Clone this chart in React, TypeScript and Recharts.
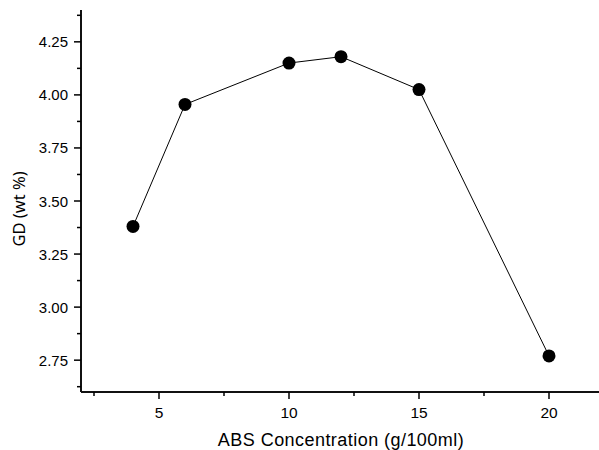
import React from 'react';
import { LineChart, Line, XAxis, YAxis } from "recharts";

// ABS concentration (g/100ml) vs GD (wt %)
const concentrations = [4, 6, 10, 12, 15, 20];
const gdValues = [3.38, 3.955, 4.15, 4.18, 4.025, 2.77];

const xTicks = [2.5, 5, 7.5, 10, 12.5, 15, 17.5, 20];
const xMajor = [5, 10, 15, 20];
const yTicks = [2.625, 2.75, 2.875, 3.0, 3.125, 3.25, 3.375, 3.5, 3.625, 3.75, 3.875, 4.0, 4.125, 4.25, 4.375];
const yMajor = [2.75, 3.0, 3.25, 3.5, 3.75, 4.0, 4.25];

const data = concentrations.map((c, i) => ({ conc: c, gd: gdValues[i] }));

const FONT = "'Liberation Sans', Arial, sans-serif";

function BottomTick(props: any) {
  const { x, y, payload } = props;
  const major = xMajor.includes(payload.value);
  return (
    <g>
      <line x1={x} x2={x} y1={y} y2={y + (major ? 7 : 4)} stroke="#000" strokeWidth={1.5} />
      {major && (
        <text x={x} y={y + 26} textAnchor="middle" fontFamily={FONT} fontSize={15.5} fill="#000">
          {payload.value}
        </text>
      )}
    </g>
  );
}

function TopTick(props: any) {
  const { x, y, payload } = props;
  const major = xMajor.includes(payload.value);
  return <line x1={x} x2={x} y1={y} y2={y + (major ? 3 : 2)} stroke="#000" strokeWidth={1.5} />;
}

function LeftTick(props: any) {
  const { x, y, payload } = props;
  const major = yMajor.some((v) => Math.abs(v - payload.value) < 1e-6);
  return (
    <g>
      <line x1={x - (major ? 7 : 4)} x2={x} y1={y} y2={y} stroke="#000" strokeWidth={1.5} />
      {major && (
        <text x={x - 13} y={y + 5.5} textAnchor="end" fontFamily={FONT} fontSize={15} fill="#000">
          {payload.value.toFixed(2)}
        </text>
      )}
    </g>
  );
}

export default function App() {
  return (
    <div style={{ position: "absolute", left: 0, top: 0, width: 599, height: 450, overflow: "hidden", background: "#fff" }}>
      <LineChart width={601} height={450} data={data} margin={{ top: 10, right: 0, left: 0, bottom: 0 }}>
        <XAxis
          xAxisId="b"
          dataKey="conc"
          type="number"
          domain={[2, 22]}
          ticks={xTicks}
          interval={0}
          height={58}
          tickSize={0}
          tickMargin={0}
          tick={<BottomTick />}
          tickLine={false}
          axisLine={{ stroke: "#111", strokeWidth: 2 }}
        />
        <XAxis
          xAxisId="t"
          orientation="top"
          dataKey="conc"
          type="number"
          domain={[2, 22]}
          ticks={xTicks}
          interval={0}
          height={0}
          tickSize={0}
          tickMargin={0}
          tick={<TopTick />}
          tickLine={false}
          axisLine={{ stroke: "#222", strokeWidth: 2 }}
        />
        <YAxis
          type="number"
          domain={[2.6, 4.4]}
          ticks={yTicks}
          interval={0}
          width={81}
          tickSize={0}
          tickMargin={0}
          tick={<LeftTick />}
          tickLine={false}
          axisLine={{ stroke: "#111", strokeWidth: 2 }}
        />
        <Line
          xAxisId="b"
          dataKey="gd"
          stroke="#000"
          strokeWidth={1}
          isAnimationActive={false}
          dot={{ r: 6.5, fill: "#000", stroke: "#000", strokeWidth: 0 }}
        />
        <text x={341} y={446} textAnchor="middle" fontFamily={FONT} fontSize={18} letterSpacing={0.45} fill="#000">
          ABS Concentration (g/100ml)
        </text>
        <text
          x={25}
          y={209}
          transform="rotate(-90 25 209)"
          textAnchor="middle"
          fontFamily="'Noto Sans', sans-serif"
          fontSize={16.5}
          fill="#000"
        >
          GD (wt %)
        </text>
      </LineChart>
    </div>
  );
}
